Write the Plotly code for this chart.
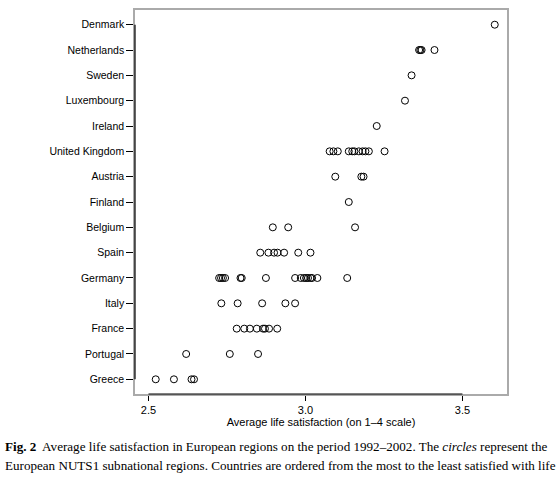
import plotly.graph_objects as go

countries = ["Denmark", "Netherlands", "Sweden", "Luxembourg", "Ireland",
             "United Kingdom", "Austria", "Finland", "Belgium", "Spain",
             "Germany", "Italy", "France", "Portugal", "Greece"]

denmark = [3.603]
netherlands = [3.362, 3.366, 3.370, 3.411]
sweden = [3.338]
luxembourg = [3.317]
ireland = [3.227]
united_kingdom = [3.077, 3.089, 3.103, 3.138, 3.149, 3.156, 3.170, 3.182, 3.191, 3.202, 3.252]
austria = [3.095, 3.178, 3.185]
finland = [3.138]
belgium = [2.896, 2.945, 3.158]
spain = [2.856, 2.882, 2.900, 2.911, 2.932, 2.977, 3.016]
germany = [2.725, 2.731, 2.737, 2.744, 2.793, 2.797, 2.874, 2.967, 2.985,
           2.995, 3.002, 3.008, 3.016, 3.021, 3.038, 3.133]
italy = [2.732, 2.784, 2.862, 2.936, 2.967]
france = [2.781, 2.805, 2.823, 2.845, 2.865, 2.871, 2.884, 2.910]
portugal = [2.620, 2.759, 2.849]
greece = [2.523, 2.581, 2.637, 2.645]

series = [denmark, netherlands, sweden, luxembourg, ireland, united_kingdom,
          austria, finland, belgium, spain, germany, italy, france, portugal, greece]

x_ticks = [2.5, 3.0, 3.5]
x_tick_labels = ["2.5", "3.0", "3.5"]
x_title = "Average life satisfaction (on 1–4 scale)"

n = len(countries)
ypos = {c: n - i for i, c in enumerate(countries)}

xs, ys = [], []
for c, vals in zip(countries, series):
    xs += vals
    ys += [ypos[c]] * len(vals)

fig = go.Figure()
fig.add_trace(go.Scatter(
    x=xs, y=ys, mode="markers",
    marker=dict(symbol="circle-open", size=7, color="black", line=dict(width=1)),
    hoverinfo="x", showlegend=False))

font_sans = "Liberation Sans, Arial, sans-serif"
W, H = 560, 477
ML, MR, MT, MB = 135, 53, 8, 83

fig.update_layout(
    width=W, height=H,
    margin=dict(l=ML, r=MR, t=MT, b=MB),
    paper_bgcolor="white", plot_bgcolor="white",
    font=dict(family=font_sans, size=10.5, color="black"),
    xaxis=dict(
        range=[2.457, 3.642], tickvals=x_ticks, ticktext=x_tick_labels,
        ticks="outside", ticklen=5, tickcolor="black", tickwidth=1,
        showgrid=False, zeroline=False,
        showline=True, mirror=True, linecolor="#aaaaaa", linewidth=1.5,
        title=dict(text=x_title, font=dict(size=11), standoff=3),
        tickfont=dict(size=11),
    ),
    yaxis=dict(
        range=[0.42, n + 0.58],
        tickvals=[ypos[c] for c in countries], ticktext=countries,
        ticks="outside", ticklen=7, tickcolor="black", tickwidth=1,
        showgrid=False, zeroline=False,
        showline=True, mirror=True, linecolor="#aaaaaa", linewidth=1.5,
        tickfont=dict(size=10.5),
    ),
    shapes=[
        dict(type="line", xref="x", yref="paper", x0=min(x_ticks), x1=max(x_ticks),
             y0=0, y1=0, line=dict(color="black", width=1.2)),
        dict(type="line", xref="paper", yref="y", x0=0, x1=0,
             y0=1, y1=n, line=dict(color="black", width=1.2)),
    ],
)

caption_font = "Liberation Serif, Times New Roman, serif"
line1 = ("<b>Fig. 2</b>  Average life satisfaction in European regions on the period "
         "1992–2002. The <i>circles</i> represent the")
line2 = ("European NUTS1 subnational regions. Countries are ordered from the most "
         "to the least satisfied with life")
for txt, yy in [(line1, 447), (line2, 466)]:
    fig.add_annotation(
        text=txt, xref="paper", yref="paper",
        x=(3 - ML) / (W - ML - MR), y=1 - (yy - MT) / (H - MT - MB),
        xanchor="left", yanchor="middle", showarrow=False,
        font=dict(family=caption_font, size=13.1, color="black"))

fig.write_html("out.html", post_script="document.body.style.margin='0';",
               config={"displayModeBar": False})
